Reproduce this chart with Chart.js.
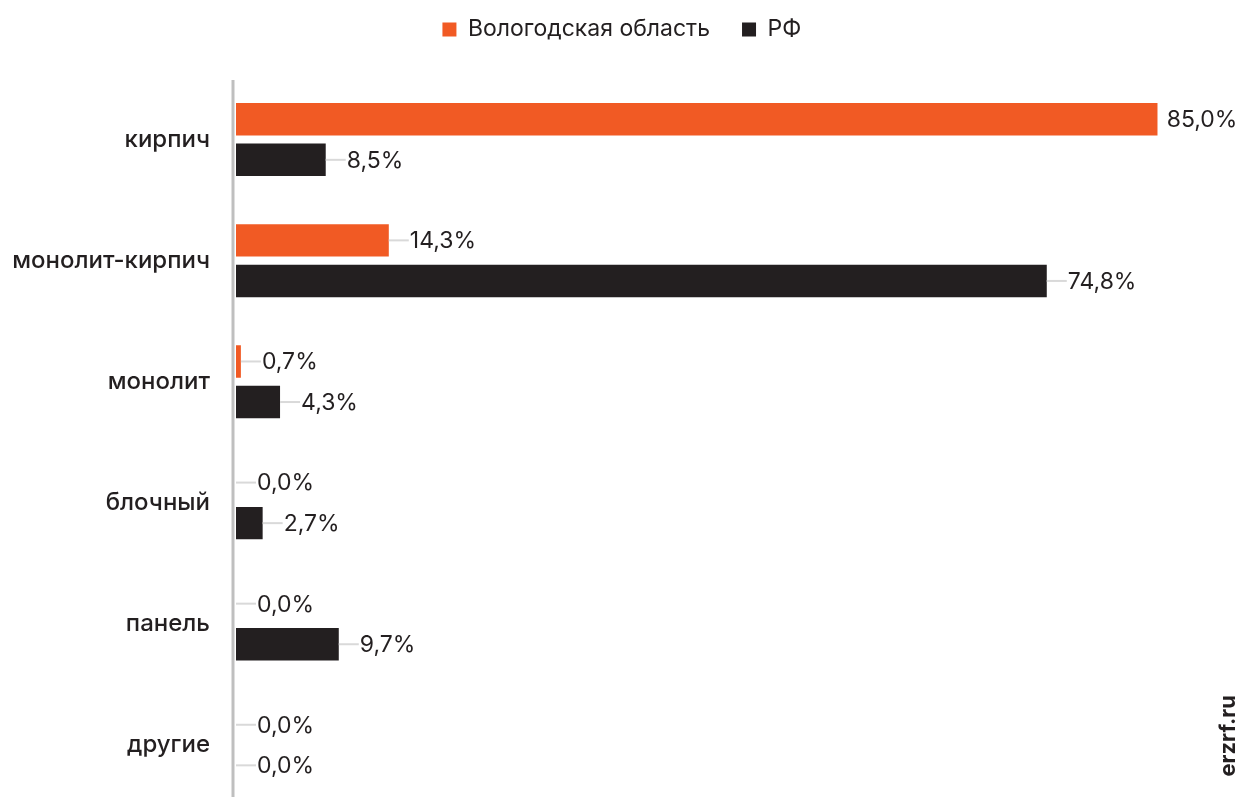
<!DOCTYPE html>
<html>
<head>
<meta charset="utf-8">
<script src="https://cdn.jsdelivr.net/npm/chart.js@4"></script>
<style>
html,body{margin:0;padding:0;background:#fff;overflow:hidden;}
canvas{display:block;}
</style>
</head>
<body>
<canvas id="c" width="1243" height="846"></canvas>
<script>
const categories = ['кирпич', 'монолит-кирпич', 'монолит', 'блочный', 'панель', 'другие'];
const seriesNames = ['Вологодская область', 'РФ'];
const regionValues = [85.0, 14.3, 0.7, 0.0, 0.0, 0.0];
const rfValues = [8.5, 74.8, 4.3, 2.7, 9.7, 0.0];
const watermark = 'erzrf.ru';

const FONT = 'Inter, "Noto Sans", sans-serif';
const TEXT = '#231f20';
const LEGEND_H = 93;
const LEGEND_SHIFT = 43;

const labelPlugin = {
  id: 'valueLabels',
  beforeInit(chart) {
    const lg = chart.legend;
    if (lg) {
      const f = lg.fit;
      lg.fit = function () {
        f.call(this);
        this.height = LEGEND_H;
        if (this.lineWidths) this.lineWidths = this.lineWidths.map(w => w - 2 * LEGEND_SHIFT);
      };
    }
  },
  beforeDatasetsDraw(chart) {
    const ctx = chart.ctx;
    const a = chart.chartArea;
    ctx.save();
    ctx.fillStyle = '#bfbfbf';
    ctx.fillRect(a.left - 4.5, a.top + 1, 3, chart.height - a.top);
    ctx.restore();
  },
  afterDatasetsDraw(chart) {
    const ctx = chart.ctx;
    const xMax = chart.scales.x.max;
    const left = chart.chartArea.left;
    ctx.save();
    chart.data.datasets.forEach((ds, di) => {
      const meta = chart.getDatasetMeta(di);
      meta.data.forEach((bar, i) => {
        const v = ds.data[i];
        const x = Math.max(bar.x, left), y = bar.y;
        const txt = v.toFixed(1).replace('.', ',') + '%';
        let tx;
        if (v >= xMax) {
          tx = x + 9;
        } else {
          ctx.strokeStyle = '#d9d9d9';
          ctx.lineWidth = 2;
          ctx.beginPath();
          ctx.moveTo(x, y);
          ctx.lineTo(x + 20, y);
          ctx.stroke();
          tx = x + 21;
        }
        ctx.fillStyle = TEXT;
        ctx.font = '400 23px ' + FONT;
        ctx.textAlign = 'left';
        ctx.textBaseline = 'middle';
        ctx.fillText(txt, tx, y + 1);
      });
    });
    ctx.restore();
  },
  afterDraw(chart) {
    const ctx = chart.ctx;
    ctx.save();
    ctx.translate(1235, 695);
    ctx.rotate(-Math.PI / 2);
    ctx.fillStyle = TEXT;
    ctx.font = '700 22px ' + FONT;
    ctx.textAlign = 'right';
    ctx.textBaseline = 'alphabetic';
    ctx.fillText(watermark, 0, 0);
    ctx.restore();
  }
};

new Chart(document.getElementById('c'), {
  type: 'bar',
  data: {
    labels: categories,
    datasets: [
      { label: seriesNames[0], data: regionValues, backgroundColor: '#f15a24', categoryPercentage: 0.67, barPercentage: 0.8 },
      { label: seriesNames[1], data: rfValues, backgroundColor: '#231f20', categoryPercentage: 0.67, barPercentage: 0.8 }
    ]
  },
  options: {
    indexAxis: 'y',
    responsive: false,
    animation: false,
    devicePixelRatio: 1,
    layout: { padding: { left: 0, right: 85.3, top: -14, bottom: 7.3 } },
    plugins: {
      tooltip: { enabled: false },
      legend: {
        display: true,
        position: 'top',
        labels: {
          boxWidth: 14, boxHeight: 14, padding: 32,
          color: TEXT,
          font: { family: FONT, size: 23, weight: '400' }
        }
      }
    },
    scales: {
      x: { display: false, min: 0.25, max: 85 },
      y: {
        grid: { display: false, drawTicks: false },
        border: { display: false },
        afterFit(s) { s.width = 236; },
        ticks: { padding: 26, color: TEXT, font: { family: FONT, size: 24, weight: '500' } }
      }
    }
  },
  plugins: [labelPlugin]
});
</script>
</body>
</html>
